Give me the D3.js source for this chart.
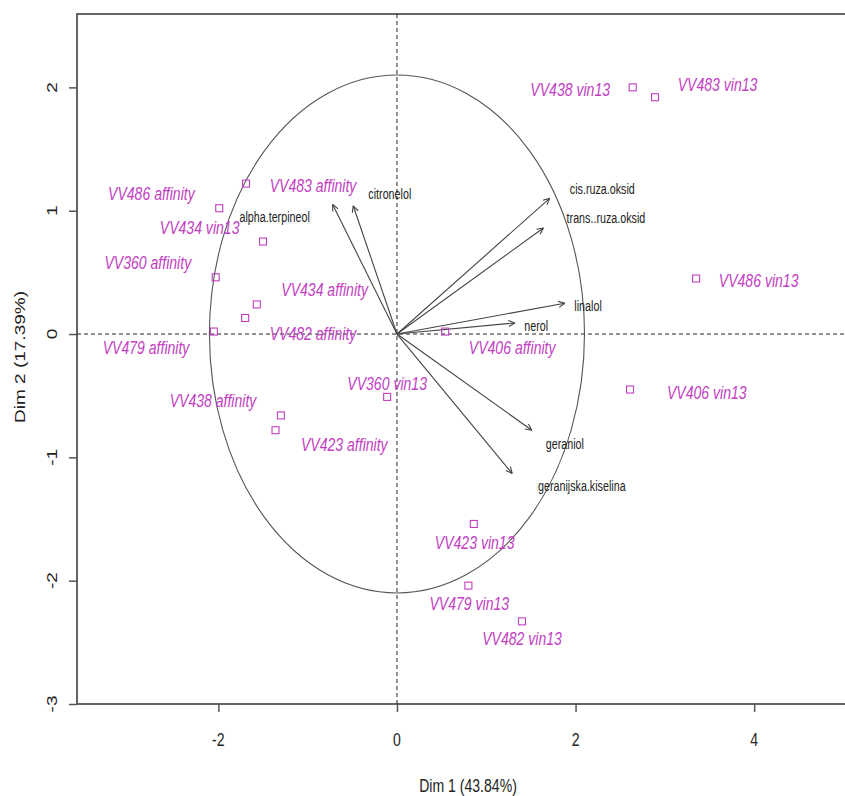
<!DOCTYPE html>
<html><head><meta charset="utf-8">
<script src="https://cdn.jsdelivr.net/npm/d3@7"></script>
<style>body{margin:0;background:#fff;}svg{display:block;}</style>
</head><body>
<script>
// Individuals (PCA scores)
const indNames = ["VV483 affinity","VV486 affinity","VV434 vin13","VV360 affinity","VV434 affinity","VV482 affinity","VV479 affinity","VV438 affinity","VV423 affinity","VV360 vin13","VV406 affinity","VV423 vin13","VV479 vin13","VV482 vin13","VV406 vin13","VV486 vin13","VV438 vin13","VV483 vin13"];
const indDim1 = [-1.69,-1.99,-1.50,-2.03,-1.57,-1.70,-2.05,-1.30,-1.36,-0.11,0.54,0.86,0.80,1.40,2.61,3.35,2.64,2.89];
const indDim2 = [1.22,1.02,0.75,0.46,0.24,0.13,0.02,-0.66,-0.78,-0.51,0.02,-1.54,-2.04,-2.33,-0.45,0.45,2.00,1.92];
// repelled label anchors (data units)
const indLabDim1 = [-0.94,-2.75,-2.21,-2.79,-0.81,-0.94,-2.81,-2.06,-0.59,-0.11,1.29,0.87,0.81,1.40,3.47,4.05,1.94,3.59];
const indLabDim2 = [1.20,1.14,0.86,0.58,0.36,0.00,-0.11,-0.54,-0.90,-0.40,-0.11,-1.69,-2.19,-2.47,-0.48,0.43,1.98,2.02];

// Variables (scaled loadings)
const varNames = ["alpha.terpineol","citronelol","cis.ruza.oksid","trans..ruza.oksid","linalol","nerol","geraniol","geranijska.kiselina"];
const varDim1 = [-0.72,-0.49,1.71,1.64,1.88,1.32,1.51,1.29];
const varDim2 = [1.05,1.04,1.10,0.86,0.25,0.09,-0.78,-1.13];
const varLabDim1 = [-1.37,-0.08,2.30,2.34,2.14,1.56,1.88,2.07];
const varLabDim2 = [0.95,1.14,1.18,0.94,0.23,0.07,-0.89,-1.23];

const circleRadius = 2.1;
const xTicks = [-2,0,2,4];
const yTicks = [-3,-2,-1,0,1,2];
const xTitle = "Dim 1 (43.84%)";
const yTitle = "Dim 2 (17.39%)";

(function(){
const W = 845, H = 796;
const pL = 77, pR = 859, pT = 14, pB = 704;
const x = d3.scaleLinear().domain([-3.583, 5.174]).range([pL, pR]);
const y = d3.scaleLinear().domain([-3.0, 2.595]).range([pB, pT]);
const SX = 0.74; // horizontal squeeze of the original rendering

const svg = d3.select("body").append("svg").attr("width", W).attr("height", H);
const axCol = "#555", mag = "#c23ec2", font = "'Liberation Sans', Arial, sans-serif";

function addText(px, py, str, size, opts = {}) {
  const rot = opts.rotate ? ` rotate(${opts.rotate})` : "";
  return svg.append("text")
    .attr("transform", `translate(${px},${py}) scale(${SX},1)${rot}`)
    .attr("text-anchor", "middle").attr("dominant-baseline", "central")
    .attr("font-family", font).attr("font-size", size)
    .attr("font-style", opts.italic ? "italic" : "normal")
    .attr("fill", opts.fill || "#222").text(str);
}

// frame
svg.append("rect").attr("x", pL).attr("y", pT).attr("width", pR-pL).attr("height", pB-pT)
  .attr("fill","none").attr("stroke", axCol).attr("stroke-width", 1.8);

// dashed zero lines
svg.append("line").attr("x1", pL).attr("x2", pR).attr("y1", y(0)).attr("y2", y(0))
  .attr("stroke","#222").attr("stroke-dasharray","4,3").attr("stroke-width",1);
svg.append("line").attr("x1", x(0)).attr("x2", x(0)).attr("y1", pT).attr("y2", pB)
  .attr("stroke","#222").attr("stroke-dasharray","4,3").attr("stroke-width",1);

// axes (ticks via d3 axes, labels re-rendered squeezed)
const fmt = d => d < 0 ? "-" + Math.abs(d) : String(d);
const gx = svg.append("g").attr("transform",`translate(0,${pB})`)
  .call(d3.axisBottom(x).tickValues(xTicks).tickSize(8).tickFormat(""));
gx.select(".domain").remove();
gx.selectAll("line").attr("stroke", axCol).attr("stroke-width",1.5);
xTicks.forEach(t => addText(x(t), 740, fmt(t), 19));

const gy = svg.append("g").attr("transform",`translate(${pL},0)`)
  .call(d3.axisLeft(y).tickValues(yTicks).tickSize(8).tickFormat(""));
gy.select(".domain").remove();
gy.selectAll("line").attr("stroke", axCol).attr("stroke-width",1.5);
yTicks.forEach(t => addText(pL - 25, y(t), fmt(t), 19, {rotate: -90}));

// axis titles
addText(468, 786, xTitle, 19);
addText(20, 357, yTitle, 19, {rotate: -90});

// correlation circle
svg.append("ellipse").attr("cx", x(0)).attr("cy", y(0))
  .attr("rx", x(circleRadius) - x(0)).attr("ry", y(0) - y(circleRadius))
  .attr("fill","none").attr("stroke","#555").attr("stroke-width",1.1);

// variable arrows
const arrowCol = "#444";
varNames.forEach((n,i) => {
  const x0 = x(0), y0 = y(0), x1 = x(varDim1[i]), y1 = y(varDim2[i]);
  svg.append("line").attr("x1",x0).attr("y1",y0).attr("x2",x1).attr("y2",y1)
    .attr("stroke",arrowCol).attr("stroke-width",1.1);
  const ang = Math.atan2(y1-y0, x1-x0), L = 7, a = Math.PI/7;
  [ang + Math.PI - a, ang + Math.PI + a].forEach(t => {
    svg.append("line").attr("x1",x1).attr("y1",y1)
      .attr("x2", x1 + L*Math.cos(t)).attr("y2", y1 + L*Math.sin(t))
      .attr("stroke",arrowCol).attr("stroke-width",1.1);
  });
  addText(x(varLabDim1[i]), y(varLabDim2[i]), n, 14.5, {fill: "#222"});
});

// individuals
indNames.forEach((n,i) => {
  svg.append("rect").attr("x", x(indDim1[i]) - 3.5).attr("y", y(indDim2[i]) - 3.5)
    .attr("width",7).attr("height",7).attr("fill","none").attr("stroke", mag).attr("stroke-width",1.1);
  addText(x(indLabDim1[i]), y(indLabDim2[i]), n, 19, {italic: true, fill: mag});
});
})();
</script>
</body></html>
